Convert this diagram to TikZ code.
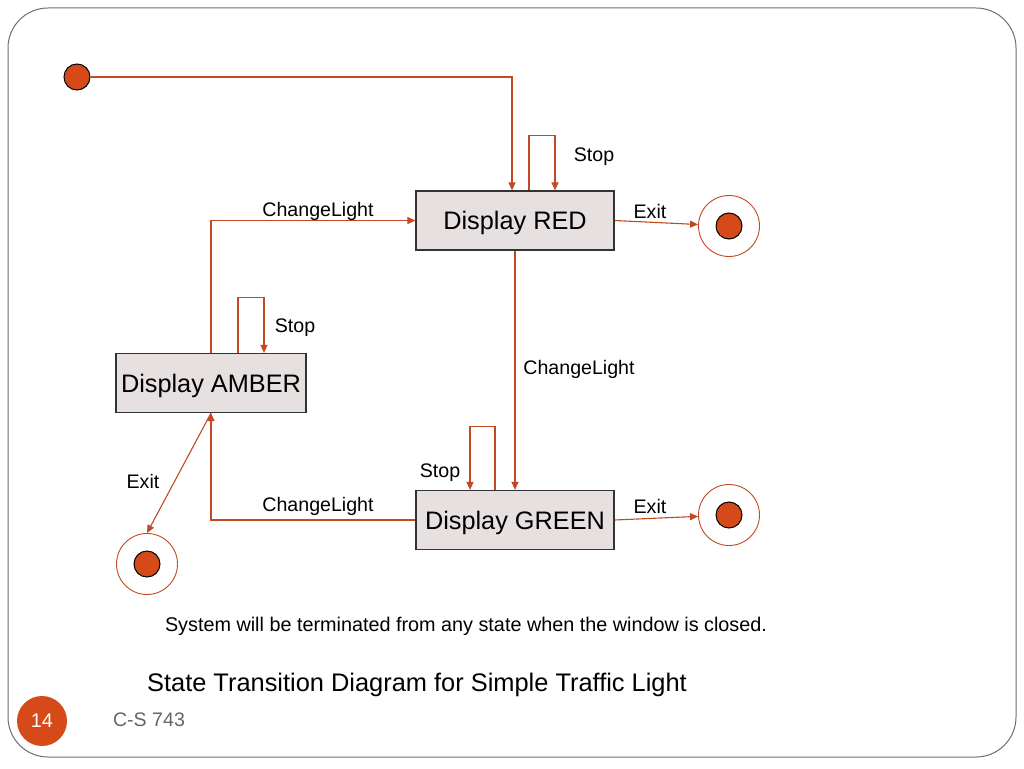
\documentclass[tikz,border=0pt]{standalone}
\usepackage{fontspec}
\setmainfont{Liberation Sans}
\usetikzlibrary{arrows.meta}
\definecolor{ln}{HTML}{C24A22}
\definecolor{dot}{HTML}{D64A1A}
\definecolor{boxf}{HTML}{E6E0E0}
\definecolor{frame}{HTML}{6E6E6E}
\tikzset{
  state/.style={draw=black!80, line width=1.2pt, fill=boxf, minimum height=59pt, inner sep=0pt, text depth=0pt, font=\fontsize{25.3}{30}\selectfont},
  conn/.style={draw=ln, line width=1.1pt, -{Triangle[length=8pt,width=7pt]}},
  lbl/.style={font=\fontsize{19.6}{24}\selectfont, inner sep=0pt, yshift=-2.5pt},
  ring/.style={circle, draw=ln, line width=0.9pt, fill=white, minimum size=61pt, inner sep=0pt},
  blob/.style={circle, draw=black, line width=1pt, fill=dot, minimum size=26pt, inner sep=0pt}
}
\begin{document}
\begin{tikzpicture}[x=1pt,y=-1pt]
\useasboundingbox (0,0) rectangle (1024,768);
\draw[frame, line width=1pt, rounded corners=40pt] (8,8) rectangle (1016,757);

% states
\node[state, minimum width=198pt] (red) at (515,220.5) {Display RED};
\node[state, minimum width=198pt] (green) at (515,520) {Display GREEN};
\node[state, minimum width=190pt] (amber) at (211,383) {Display AMBER};

% start
\node[blob] (start) at (77,77) {};

% end states
\node[ring] (endR) at (729,226) {};
\node[blob] (endRd) at (729,226) {};
\node[ring] (endG) at (729,515) {};
\node[blob] (endGd) at (729,515) {};
\node[ring] (endA) at (147,564) {};
\node[blob] (endAd) at (147,564) {};

% connectors
\draw[conn] (start.east) -| ([xshift=-3pt]red.north);
\draw[conn] ([xshift=14pt]red.north) -- ++(0,-55) -| ([xshift=40pt]red.north);
\draw[conn] (red.east) -- (endR);
\draw[conn] (red.south) -- (green.north);
\draw[conn] ([xshift=-20pt]green.north) -- ++(0,-63) -| ([xshift=-45pt]green.north);
\draw[conn] (green.east) -- (endG);
\draw[conn] (green.west) -| (amber.south);
\draw[conn] (amber.north) |- (red.west);
\draw[conn] ([xshift=27pt]amber.north) -- ++(0,-55) -| ([xshift=53pt]amber.north);
\draw[conn] (amber.south) -- (endA.north);

% labels
\node[lbl] (lStopR) at (594,154) {Stop};
\node[lbl] (lExitR) at (650,209) {Exit};
\node[lbl] (lCLtop) at (318,209) {ChangeLight};
\node[lbl] (lStopA) at (295,325) {Stop};
\node[lbl] (lCLmid) at (579,367) {ChangeLight};
\node[lbl] (lStopG) at (440,470) {Stop};
\node[lbl] (lExitA) at (143,479) {Exit};
\node[lbl] (lCLbot) at (318,504) {ChangeLight};
\node[lbl] (lExitG) at (650,504) {Exit};

\node[lbl, font=\fontsize{19.8}{24}\selectfont] (note) at (466,624) {System will be terminated from any state when the window is closed.};
\node[inner sep=0pt, yshift=-3pt, font=\fontsize{25.4}{30}\selectfont] (title) at (417,682) {State Transition Diagram for Simple Traffic Light};

\node[circle, fill=dot, minimum size=50pt, inner sep=0pt, text=white, font=\fontsize{19.8}{24}\selectfont] (page) at (42,721) {14};
\node[lbl, text=black!60] (course) at (149,717) {C-S 743};
\end{tikzpicture}
\end{document}
